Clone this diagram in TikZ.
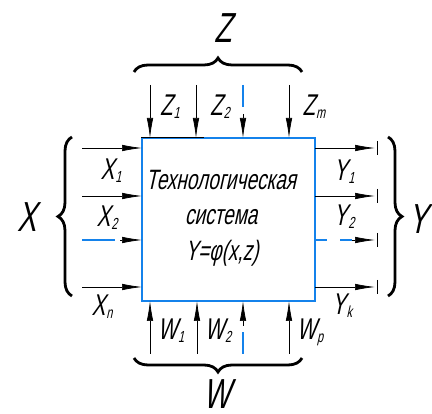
\documentclass[tikz,border=0pt]{standalone}
\usepackage{fontspec}
\setmainfont{Liberation Sans}
\newfontfamily\gost[FakeStretch=0.68,FakeSlant=0.22]{Liberation Sans}
\usetikzlibrary{arrows.meta,decorations.pathreplacing}
\definecolor{bl}{RGB}{20,130,235}
\newcommand{\sbs}[1]{\kern1pt\raisebox{-0.1em}{\fontsize{16}{16}\selectfont #1}}
\tikzset{
  flow/.style={draw=black,line width=0.7pt,-{Latex[length=20pt,width=6.5pt]}},
  bdash/.style={draw=bl,line width=1.3pt},
  brc/.style={draw=black,line width=2.8pt,decorate,decoration={brace,amplitude=14pt}},
  lab/.style={font=\gost\fontsize{30}{30}\selectfont,inner sep=0pt},
  big/.style={font=\gost\fontsize{42}{42}\selectfont,inner sep=0pt},
  ctext/.style={font=\gost\fontsize{28}{28}\selectfont,inner sep=0pt},
  bar/.style={draw=black,line width=0.8pt}
}
\begin{document}
\begin{tikzpicture}[x=1pt,y=-1pt]
\useasboundingbox (0,0) rectangle (432,414);
% box
\node[draw=bl,line width=1.3pt,minimum width=173pt,minimum height=163pt,inner sep=0pt] (box) at (228.5,219.5) {};
\draw[line width=1.3pt] (box.north west) -- ++(63,0);
% center text
\node[ctext] (t1) at (221,180) {Технологическая};
\node[ctext] (t2) at (221,217) {система};
\node[ctext] (t3) at (222,253) {Y=φ(x,z)};
% inputs X
\foreach \n/\y in {x1/148,x2/196,x3/240,x4/287}{
  \coordinate (\n s) at (82,\y);
  \coordinate (\n e) at (142,\y);
}
\draw[flow] (x1s) -- (x1e);
\draw[flow] (x2s) -- (x2e);
\draw[flow] (x4s) -- (x4e);
\coordinate (x3m) at (115,240);
\coordinate (x3a) at (120,240);
\draw[bdash] (x3s) -- (x3m);
\draw[flow] (x3a) -- (x3e);
% outputs Y
\foreach \n/\y in {y1/148,y2/196,y3/240,y4/287}{
  \coordinate (\n s) at (315,\y);
  \coordinate (\n e) at (375,\y);
  \coordinate (\n t) at (377,\y-7);
  \coordinate (\n b) at (377,\y+7);
  \draw[bar] (\n t) -- (\n b);
}
\draw[flow] (y1s) -- (y1e);
\draw[flow] (y2s) -- (y2e);
\draw[flow] (y4s) -- (y4e);
\coordinate (y3m1) at (327,240);
\coordinate (y3m2) at (340,240);
\coordinate (y3m3) at (352,240);
\draw[bdash] (y3s) -- (y3m1);
\draw[bdash] (y3m2) -- (y3m3);
\draw[flow] (y3m3) -- (y3e);
% inputs Z
\foreach \n/\x in {z1/150,z2/196,z3/243,z4/289}{
  \coordinate (\n s) at (\x,85);
  \coordinate (\n e) at (\x,138);
}
\draw[flow] (z1s) -- (z1e);
\draw[flow] (z2s) -- (z2e);
\draw[flow] (z4s) -- (z4e);
\coordinate (z3m) at (243,107);
\coordinate (z3a) at (243,114);
\draw[bdash] (z3s) -- (z3m);
\draw[flow] (z3a) -- (z3e);
% inputs W
\foreach \n/\x in {w1/150,w2/197,w3/243,w4/289}{
  \coordinate (\n s) at (\x,354);
  \coordinate (\n e) at (\x,301);
}
\draw[flow] (w1s) -- (w1e);
\draw[flow] (w2s) -- (w2e);
\draw[flow] (w4s) -- (w4e);
\coordinate (w3m) at (243,332);
\coordinate (w3a) at (243,326);
\draw[bdash] (w3s) -- (w3m);
\draw[flow] (w3a) -- (w3e);
% braces
\coordinate (bxa) at (72,296);
\coordinate (bxb) at (72,137);
\draw[brc] (bxa) -- (bxb);
\coordinate (bya) at (388,137);
\coordinate (byb) at (388,296);
\draw[brc] (bya) -- (byb);
\coordinate (bza) at (134,72);
\coordinate (bzb) at (302,72);
\draw[brc] (bza) -- (bzb);
\coordinate (bwa) at (302,358);
\coordinate (bwb) at (134,358);
\draw[brc] (bwa) -- (bwb);
% big labels
\node[big] (X) at (27,217) {X};
\node[big] (Y) at (418,219) {Y};
\node[big] (Z) at (223,28) {Z};
\node[big] (W) at (217,394) {W};
% small labels
\node[lab] (X1) at (111,171) {X\sbs{1}};
\node[lab] (X2) at (107,218) {X\sbs{2}};
\node[lab] (Xn) at (102,307) {X\sbs{n}};
\node[lab] (Y1) at (344,172) {Y\sbs{1}};
\node[lab] (Y2) at (344,217) {Y\sbs{2}};
\node[lab] (Yk) at (342,306) {Y\sbs{k}};
\node[lab] (Z1) at (170,107) {Z\sbs{1}};
\node[lab] (Z2) at (220,107) {Z\sbs{2}};
\node[lab] (Zm) at (314,107) {Z\sbs{m}};
\node[lab] (W1) at (171,331) {W\sbs{1}};
\node[lab] (W2) at (218,331) {W\sbs{2}};
\node[lab] (Wp) at (310,332) {W\sbs{p}};
\end{tikzpicture}
\end{document}
